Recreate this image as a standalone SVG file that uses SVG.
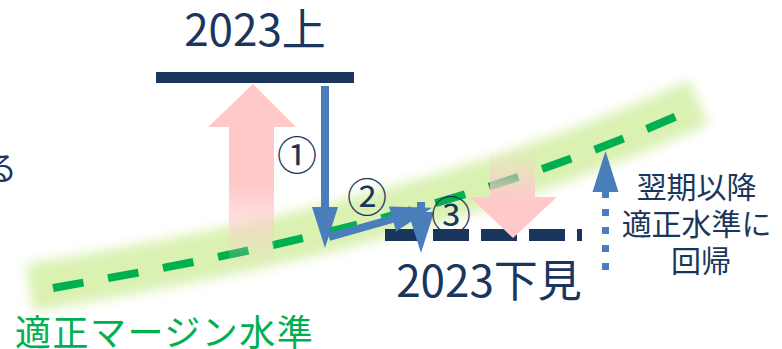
<svg xmlns="http://www.w3.org/2000/svg" width="782" height="349" viewBox="0 0 782 349">
<style>
.navy{fill:#1b365d}
.txt{font-family:"Noto Sans CJK JP","Noto Sans",sans-serif;fill:#1b365d}
.blue{stroke:#4a7ebb;fill:none}
</style>
<defs>
<filter id="blur" x="-10%" y="-60%" width="120%" height="220%"><feGaussianBlur stdDeviation="6"/></filter>
<marker id="head" markerUnits="userSpaceOnUse" markerWidth="42" markerHeight="26" refX="0" refY="13" orient="auto" overflow="visible">
<path d="M0,0 L41,13 L0,26 Z" fill="#4a7ebb"/>
</marker>
<linearGradient id="pinkUp" gradientUnits="userSpaceOnUse" x1="0" y1="84" x2="0" y2="268">
<stop offset="0" stop-color="#ffc9c9" stop-opacity="1"/>
<stop offset="0.55" stop-color="#ffc9c9" stop-opacity="1"/>
<stop offset="1" stop-color="#ffc9c9" stop-opacity="0"/>
</linearGradient>
<linearGradient id="pinkDown" gradientUnits="userSpaceOnUse" x1="0" y1="150" x2="0" y2="200">
<stop offset="0" stop-color="#ffc9c9" stop-opacity="0"/>
<stop offset="1" stop-color="#ffc9c9" stop-opacity="1"/>
</linearGradient>
</defs>
<rect width="782" height="349" fill="#ffffff"/>

<g id="margin-band">
<path d="M53,288 C200,262 440,220 677,116" transform="translate(0,-4)" fill="none" stroke="#daf1b2" stroke-width="48" stroke-linecap="square" filter="url(#blur)"/>
<path d="M53,288 C200,262 440,220 677,116" fill="none" stroke="#00b050" stroke-width="8" stroke-dasharray="31 25"/>
</g>

<g id="level-2023-upper">
<rect class="navy" x="156" y="72" width="198" height="11"/>
<text class="txt" x="255" y="46" font-size="44" text-anchor="middle">2023上</text>
</g>

<g id="level-2023-lower">
<line x1="385" y1="235" x2="582" y2="235" stroke="#1b365d" stroke-width="12" stroke-dasharray="36 12"/>
<text class="txt" x="489" y="297" font-size="44" text-anchor="middle">2023下見</text>
</g>

<g id="pink-arrows">
<polygon points="253,84 296,127 274,127 274,268 229,268 229,127 208,127" fill="url(#pinkUp)"/>
<polygon points="490,150 535,150 535,197 557,197 513,238 470,197 490,197" fill="url(#pinkDown)"/>
</g>

<g id="connectors">
<line class="blue" x1="325" y1="86" x2="325" y2="207" stroke-width="8" marker-end="url(#head)"/>
<line class="blue" x1="329" y1="237" x2="392.5" y2="219" stroke-width="8" marker-end="url(#head)"/>
<line class="blue" x1="421" y1="202" x2="421" y2="212" stroke-width="8" marker-end="url(#head)"/>
<line class="blue" x1="605.5" y1="270" x2="605.5" y2="192" stroke-width="7" stroke-dasharray="7 11" marker-end="url(#head)"/>
</g>

<g id="step-labels">
<text class="txt" x="297" y="170" font-size="40" text-anchor="middle">①</text>
<text class="txt" x="367" y="212" font-size="40" text-anchor="middle">②</text>
<text class="txt" x="451" y="230" font-size="40" text-anchor="middle">③</text>
</g>

<g id="note">
<text class="txt" font-size="30" text-anchor="middle">
<tspan x="700" y="198">翌期以降</tspan>
<tspan x="700" y="235">適正水準に</tspan>
<tspan x="701" y="272">回帰</tspan>
</text>
</g>

<g id="margin-label">
<text x="15" y="346" font-size="36" letter-spacing="1.5" style="font-family:'Noto Sans CJK JP','Noto Sans',sans-serif;fill:#00b050">適正マージン水準</text>
</g>

<g id="cut-text">
<text class="txt" x="-15" y="180" font-size="32">る</text>
</g>
</svg>
